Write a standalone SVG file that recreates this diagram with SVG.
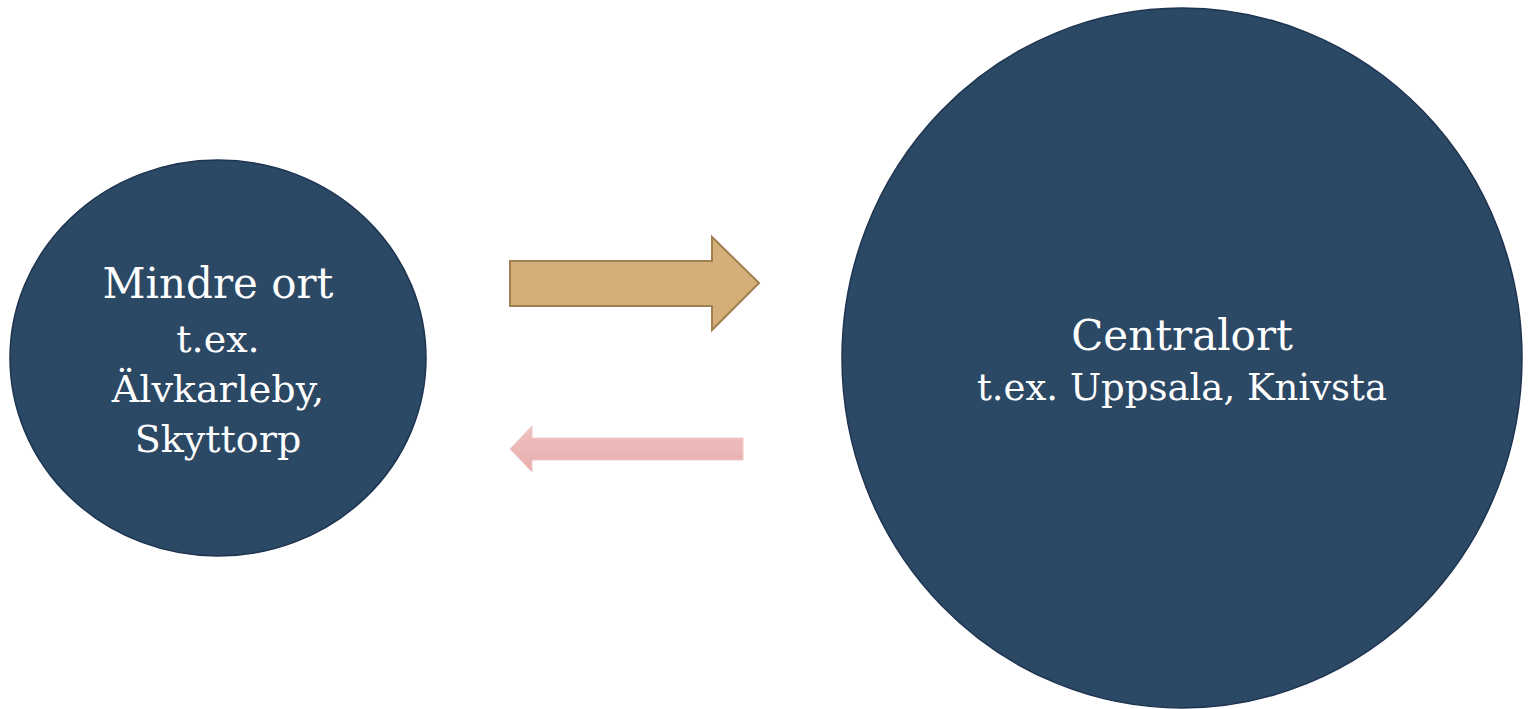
<svg xmlns="http://www.w3.org/2000/svg" width="1529" height="709" viewBox="0 0 1529 709">
<defs>
<style>
.node{fill:#2B4865;stroke:#1E3450;stroke-width:1.5}
.t1{font-family:"DejaVu Serif","Liberation Serif",serif;fill:#ffffff;text-anchor:middle;font-size:42px}
.t2{font-family:"DejaVu Serif","Liberation Serif",serif;fill:#ffffff;text-anchor:middle;font-size:37px}
</style>
<linearGradient id="pink" x1="0" y1="0" x2="0" y2="1">
<stop offset="0" stop-color="#F0C0C0"/>
<stop offset="1" stop-color="#E6AEAE"/>
</linearGradient>
</defs>
<rect width="1529" height="709" fill="#ffffff"/>
<g id="node-mindre">
<ellipse class="node" cx="218" cy="358" rx="208" ry="198"/>
<text class="t1" x="218" y="298">Mindre ort</text>
<text class="t2" x="218" y="352" style="font-size:38px">t.ex.</text>
<text class="t2" x="218" y="402" style="font-size:38px">Älvkarleby,</text>
<text class="t2" x="218" y="452" style="font-size:38px">Skyttorp</text>
</g>
<g id="node-central">
<ellipse class="node" cx="1182" cy="358" rx="340" ry="350"/>
<text class="t1" x="1182" y="350">Centralort</text>
<text class="t2" x="1182" y="400">t.ex. Uppsala, Knivsta</text>
</g>
<g id="connectors">
<path d="M510,261 H712 V237 L759,283 L712,330 V306 H510 Z" fill="#D4AF7A" stroke="#A08050" stroke-width="2"/>
<path d="M743,438 H532 V426 L510,449 L532,472 V460 H743 Z" fill="url(#pink)" stroke="#F2C8C8" stroke-width="1"/>
</g>
</svg>
